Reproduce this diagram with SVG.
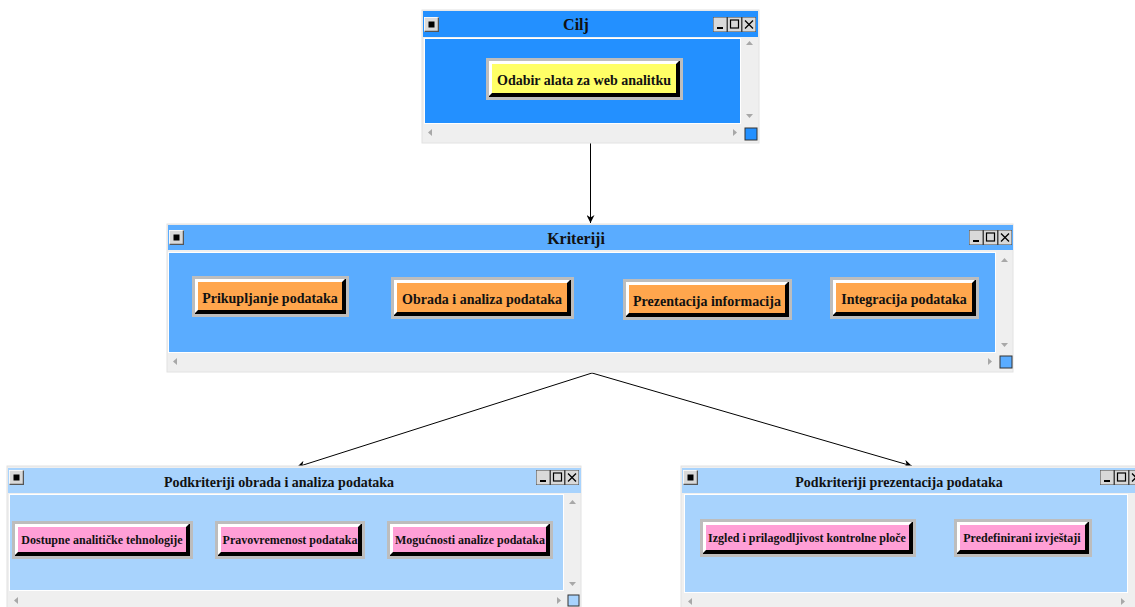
<svg xmlns="http://www.w3.org/2000/svg" xmlns:xlink="http://www.w3.org/1999/xlink" width="1135" height="607" viewBox="0 0 1135 607">
<style>
.frame{fill:#efefef;stroke:#e2e2e2;stroke-width:1}
.bg{fill:#bdbdbd}
.hi{fill:#ffffff}
.sh{fill:#000000}
.lbl{font-family:"Liberation Serif","Times New Roman",serif;font-weight:bold;fill:#111;text-anchor:middle}
.t16{font-size:16px}
.t14{font-size:14px}
.t12{font-size:12px}
.sarr{fill:#a8a8a8}
.wline{fill:#ffffff}
.conn{stroke:#000;stroke-width:1;fill:none;marker-end:url(#ah)}
</style>
<defs>
<marker id="ah" viewBox="0 0 10 10" refX="10" refY="5" markerWidth="8" markerHeight="8" markerUnits="userSpaceOnUse" orient="auto">
<path d="M0,0 L10,5 L0,10 L3,5 z" fill="#000"/>
</marker>
<symbol id="icon" viewBox="0 0 15 15" width="15" height="15">
<rect x="0" y="0" width="15" height="15" fill="#d9d9d9"/>
<path d="M0,15 V0 H15" stroke="#fff" stroke-width="1.5" fill="none"/>
<path d="M0.5,14.5 H14.5 V0.5" stroke="#555" stroke-width="1.5" fill="none"/>
<rect x="4.5" y="4.5" width="6" height="6" fill="#000"/>
</symbol>
<symbol id="ctrl" viewBox="0 0 43 15" width="43" height="15">
<rect x="0" y="0" width="14" height="15" fill="#d9d9d9" stroke="#444" stroke-width="1"/>
<rect x="14.5" y="0" width="14" height="15" fill="#d9d9d9" stroke="#444" stroke-width="1"/>
<rect x="29" y="0" width="14" height="15" fill="#d9d9d9" stroke="#444" stroke-width="1"/>
<rect x="4" y="10" width="6" height="2" fill="#000"/>
<rect x="17.5" y="3" width="8" height="8" fill="none" stroke="#000" stroke-width="1.2"/>
<path d="M32,3.5 L40,11.5 M40,3.5 L32,11.5" stroke="#000" stroke-width="1.3"/>
</symbol>
<symbol id="up" viewBox="0 0 7 4" width="7" height="4"><path d="M0,4 L3.5,0 L7,4 z" class="sarr"/></symbol>
<symbol id="dn" viewBox="0 0 7 4" width="7" height="4"><path d="M0,0 L3.5,4 L7,0 z" class="sarr"/></symbol>
<symbol id="lf" viewBox="0 0 4 7" width="4" height="7"><path d="M4,0 L0,3.5 L4,7 z" class="sarr"/></symbol>
<symbol id="rt" viewBox="0 0 4 7" width="4" height="7"><path d="M0,0 L4,3.5 L0,7 z" class="sarr"/></symbol>
</defs>

<rect x="0" y="0" width="1135" height="607" fill="#ffffff"/>

<g id="connectors">
<line class="conn" x1="590.5" y1="143" x2="590.5" y2="223"/>
<line class="conn" x1="592" y1="373" x2="297" y2="467"/>
<line class="conn" x1="592" y1="373" x2="912" y2="466"/>
</g>

<!-- Cilj window -->
<g id="cilj">
<rect class="frame" x="422" y="10" width="337" height="133"/>
<rect x="423" y="11" width="335" height="26" fill="#2390ff"/>
<rect class="wline" x="424" y="38" width="317" height="86"/>
<rect x="425" y="39" width="315" height="84" fill="#2390ff"/>
<use xlink:href="#icon" x="424" y="17"/>
<use xlink:href="#ctrl" x="713" y="17"/>
<text class="lbl t16" x="576" y="30">Cilj</text>
<use xlink:href="#up" x="746" y="41"/>
<use xlink:href="#dn" x="746" y="114"/>
<use xlink:href="#lf" x="428" y="129"/>
<use xlink:href="#rt" x="733" y="129"/>
<rect x="745" y="128" width="12" height="12" fill="#2390ff" stroke="#333" stroke-width="1"/>
<g id="btn-odabir" transform="translate(486,58)">
<rect class="bg" x="0" y="0" width="197" height="42"/>
<rect class="sh" x="3" y="3" width="191" height="36"/>
<path class="hi" d="M3,3 H193 L190,6 H6 V35 L3,38 z"/>
<rect x="6" y="6" width="184" height="29" fill="#ffff66"/>
<text class="lbl t14" x="98" y="27">Odabir alata za web analitku</text>
</g>
</g>

<!-- Kriteriji window -->
<g id="kriteriji">
<rect class="frame" x="167" y="224" width="846" height="148"/>
<rect x="168" y="225" width="845" height="25" fill="#5aacff"/>
<rect class="wline" x="168" y="252" width="828" height="101"/>
<rect x="169" y="253" width="826" height="99" fill="#5aacff"/>
<use xlink:href="#icon" x="169" y="230"/>
<use xlink:href="#ctrl" x="969" y="230"/>
<text class="lbl t16" x="576" y="244">Kriteriji</text>
<use xlink:href="#up" x="1001" y="258"/>
<use xlink:href="#dn" x="1001" y="343"/>
<use xlink:href="#lf" x="173" y="358"/>
<use xlink:href="#rt" x="988" y="358"/>
<rect x="1000" y="356" width="12" height="12" fill="#5aacff" stroke="#333" stroke-width="1"/>
<g id="btn-prikupljanje" transform="translate(192,276)">
<rect class="bg" x="0" y="0" width="157" height="41"/>
<rect class="sh" x="3" y="3" width="151" height="35"/>
<path class="hi" d="M3,3 H153 L150,6 H6 V34 L3,37 z"/>
<rect x="6" y="6" width="144" height="28" fill="#ffa64d"/>
<text class="lbl t14" x="78" y="27">Prikupljanje podataka</text>
</g>
<g id="btn-obrada" transform="translate(391,277)">
<rect class="bg" x="0" y="0" width="183" height="42"/>
<rect class="sh" x="3" y="3" width="177" height="36"/>
<path class="hi" d="M3,3 H179 L176,6 H6 V35 L3,38 z"/>
<rect x="6" y="6" width="170" height="29" fill="#ffa64d"/>
<text class="lbl t14" x="91" y="27">Obrada i analiza podataka</text>
</g>
<g id="btn-prezentacija" transform="translate(623,279)">
<rect class="bg" x="0" y="0" width="169" height="41"/>
<rect class="sh" x="3" y="3" width="163" height="35"/>
<path class="hi" d="M3,3 H165 L162,6 H6 V34 L3,37 z"/>
<rect x="6" y="6" width="156" height="28" fill="#ffa64d"/>
<text class="lbl t14" x="84" y="27">Prezentacija informacija</text>
</g>
<g id="btn-integracija" transform="translate(830,277)">
<rect class="bg" x="0" y="0" width="149" height="42"/>
<rect class="sh" x="3" y="3" width="143" height="36"/>
<path class="hi" d="M3,3 H145 L142,6 H6 V35 L3,38 z"/>
<rect x="6" y="6" width="136" height="29" fill="#ffa64d"/>
<text class="lbl t14" x="74" y="27">Integracija podataka</text>
</g>
</g>

<!-- Podkriteriji obrada i analiza podataka -->
<g id="podkriteriji-obrada">
<rect class="frame" x="7" y="466" width="574" height="145"/>
<rect x="8" y="468" width="573" height="25" fill="#a8d3fd"/>
<rect class="wline" x="9" y="494" width="555" height="97"/>
<rect x="10" y="495" width="553" height="95" fill="#a8d3fd"/>
<use xlink:href="#icon" x="9" y="470"/>
<use xlink:href="#ctrl" x="536" y="470"/>
<text class="lbl t14" x="279" y="487">Podkriteriji obrada i analiza podataka</text>
<use xlink:href="#up" x="569" y="500"/>
<use xlink:href="#dn" x="569" y="582"/>
<use xlink:href="#lf" x="14" y="597"/>
<use xlink:href="#rt" x="557" y="597"/>
<rect x="568" y="595" width="11" height="11" fill="#a8d3fd" stroke="#333" stroke-width="1"/>
<g id="btn-dostupne" transform="translate(12,521)">
<rect class="bg" x="0" y="0" width="181" height="38"/>
<rect class="sh" x="3" y="3" width="175" height="32"/>
<path class="hi" d="M3,3 H177 L174,6 H6 V31 L3,34 z"/>
<rect x="6" y="6" width="168" height="25" fill="#ff9fd6"/>
<text class="lbl t12" x="90" y="23">Dostupne analitičke tehnologije</text>
</g>
<g id="btn-pravovremenost" transform="translate(215,521)">
<rect class="bg" x="0" y="0" width="150" height="38"/>
<rect class="sh" x="3" y="3" width="144" height="32"/>
<path class="hi" d="M3,3 H146 L143,6 H6 V31 L3,34 z"/>
<rect x="6" y="6" width="137" height="25" fill="#ff9fd6"/>
<text class="lbl t12" x="75" y="23">Pravovremenost podataka</text>
</g>
<g id="btn-mogucnosti" transform="translate(387,521)">
<rect class="bg" x="0" y="0" width="166" height="38"/>
<rect class="sh" x="3" y="3" width="160" height="32"/>
<path class="hi" d="M3,3 H162 L159,6 H6 V31 L3,34 z"/>
<rect x="6" y="6" width="153" height="25" fill="#ff9fd6"/>
<text class="lbl t12" x="83" y="23">Mogućnosti analize podataka</text>
</g>
</g>

<!-- Podkriteriji prezentacija podataka -->
<g id="podkriteriji-prezentacija">
<rect class="frame" x="681" y="466" width="470" height="145"/>
<rect x="682" y="468" width="469" height="25" fill="#a8d3fd"/>
<rect class="wline" x="684" y="494" width="444" height="99"/>
<rect x="685" y="495" width="442" height="97" fill="#a8d3fd"/>
<use xlink:href="#icon" x="683" y="470"/>
<use xlink:href="#ctrl" x="1100" y="470"/>
<text class="lbl t14" x="899" y="487">Podkriteriji prezentacija podataka</text>
<use xlink:href="#lf" x="688" y="598"/>
<use xlink:href="#rt" x="1121" y="598"/>
<g id="btn-izgled" transform="translate(700,519)">
<rect class="bg" x="0" y="0" width="216" height="38"/>
<rect class="sh" x="3" y="3" width="210" height="32"/>
<path class="hi" d="M3,3 H212 L209,6 H6 V31 L3,34 z"/>
<rect x="6" y="6" width="203" height="25" fill="#ff9fd6"/>
<text class="lbl t12" x="107" y="23">Izgled i prilagodljivost kontrolne ploče</text>
</g>
<g id="btn-predefinirani" transform="translate(954,519)">
<rect class="bg" x="0" y="0" width="138" height="38"/>
<rect class="sh" x="3" y="3" width="132" height="32"/>
<path class="hi" d="M3,3 H134 L131,6 H6 V31 L3,34 z"/>
<rect x="6" y="6" width="125" height="25" fill="#ff9fd6"/>
<text class="lbl t12" x="68" y="23">Predefinirani izvještaji</text>
</g>
</g>
</svg>
